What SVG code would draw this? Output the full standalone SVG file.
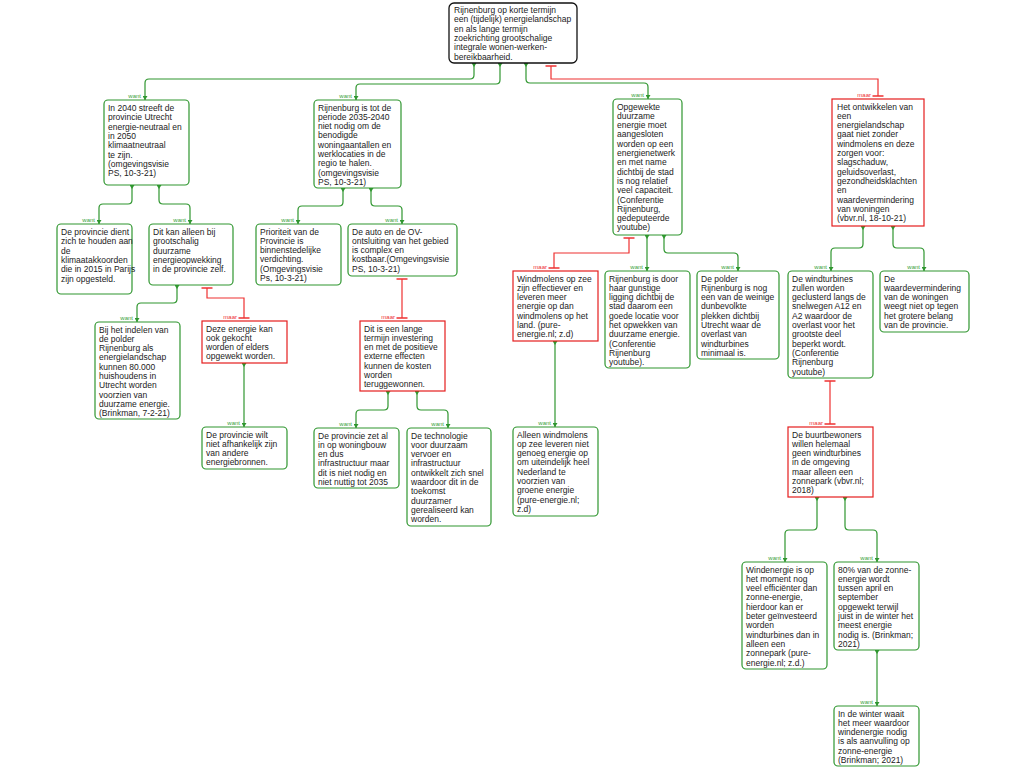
<svg xmlns="http://www.w3.org/2000/svg" width="1024" height="768" viewBox="0 0 1024 768">
<style>
.t{font-family:"Liberation Sans",Arial,sans-serif;font-size:8.5px;fill:#222}
.g{fill:#fff;stroke:#2f962f;stroke-width:1.2}
.r{fill:#fff;stroke:#e51d1d;stroke-width:1.2}
.k{fill:#fff;stroke:#111;stroke-width:1.3}
.cg{fill:none;stroke:#2f962f;stroke-width:1.2}
.cr{fill:none;stroke:#ee3030;stroke-width:1.2}
.lw{font-family:"Liberation Sans",Arial,sans-serif;font-size:6px;fill:#3aa23a;text-anchor:end}
.lm{font-family:"Liberation Sans",Arial,sans-serif;font-size:6px;fill:#ee3030;text-anchor:end}
</style>
<defs>
<marker id="ae" viewBox="0 0 4 5" refX="4" refY="2.5" markerWidth="4" markerHeight="5" markerUnits="userSpaceOnUse" orient="auto"><path d="M0,0 L4,2.5 L0,5 z" fill="#2f962f"/></marker>
<marker id="as" viewBox="0 0 4 5" refX="0" refY="2.5" markerWidth="4" markerHeight="5" markerUnits="userSpaceOnUse" orient="auto"><path d="M0,0 L4,2.5 L0,5 z" fill="#2f962f"/></marker>
<marker id="tb" viewBox="-2 -6 4 12" refX="0" refY="0" markerWidth="4" markerHeight="12" markerUnits="userSpaceOnUse" orient="auto"><path d="M0,-5.5 V5.5" stroke="#ee3030" stroke-width="1.5"/></marker>
</defs>
<g id="connectors">
<path class="cg" marker-start="url(#as)" marker-end="url(#ae)" d="M474 63 V75 Q474 79 470 79 H149 Q145 79 145 83 V100"/>
<path class="cg" marker-start="url(#as)" marker-end="url(#ae)" d="M500 63 V80 Q500 84 496 84 H360 Q356 84 356 88 V100"/>
<path class="cg" marker-start="url(#as)" marker-end="url(#ae)" d="M526 63 V79 Q526 83 530 83 H644 Q648 83 648 87 V99"/>
<path class="cr" marker-start="url(#tb)" marker-end="url(#tb)" d="M551 66 V79 H878 V96"/>
<path class="cg" marker-start="url(#as)" marker-end="url(#ae)" d="M132 185 V200 Q132 204 128 204 H103 Q99 204 99 208 V224"/>
<path class="cg" marker-start="url(#as)" marker-end="url(#ae)" d="M159 185 V200 Q159 204 163 204 H186 Q190 204 190 208 V224"/>
<path class="cg" marker-start="url(#as)" marker-end="url(#ae)" d="M343 188 V202 Q343 206 339 206 H302 Q298 206 298 210 V224"/>
<path class="cg" marker-start="url(#as)" marker-end="url(#ae)" d="M371 188 V202 Q371 206 375 206 H398 Q402 206 402 210 V224"/>
<path class="cr" marker-start="url(#tb)" marker-end="url(#tb)" d="M629 238 V253 H554 V268"/>
<path class="cg" marker-start="url(#as)" marker-end="url(#ae)" d="M647 235 V271"/>
<path class="cg" marker-start="url(#as)" marker-end="url(#ae)" d="M664 235 V249 Q664 253 668 253 H734 Q738 253 738 257 V271"/>
<path class="cg" marker-start="url(#as)" marker-end="url(#ae)" d="M863 226 V244 Q863 248 859 248 H835 Q831 248 831 252 V271"/>
<path class="cg" marker-start="url(#as)" marker-end="url(#ae)" d="M893 226 V244 Q893 248 897 248 H920 Q924 248 924 252 V271"/>
<path class="cr" marker-start="url(#tb)" marker-end="url(#tb)" d="M830 381 V424"/>
<path class="cg" marker-start="url(#as)" marker-end="url(#ae)" d="M817 497 V526 Q817 530 813 530 H789 Q785 530 785 534 V562"/>
<path class="cg" marker-start="url(#as)" marker-end="url(#ae)" d="M845 497 V526 Q845 530 849 530 H873 Q877 530 877 534 V562"/>
<path class="cg" marker-start="url(#as)" marker-end="url(#ae)" d="M877 650 V706"/>
<path class="cg" marker-start="url(#as)" marker-end="url(#ae)" d="M555 341 V427"/>
<path class="cg" marker-start="url(#as)" marker-end="url(#ae)" d="M177 285 V299 Q177 303 173 303 H141 Q137 303 137 307 V322"/>
<path class="cr" marker-start="url(#tb)" marker-end="url(#tb)" d="M207 288 V298 H244 V318"/>
<path class="cg" marker-start="url(#as)" marker-end="url(#ae)" d="M244 363 V427"/>
<path class="cr" marker-start="url(#tb)" marker-end="url(#tb)" d="M402 279 V318"/>
<path class="cg" marker-start="url(#as)" marker-end="url(#ae)" d="M388 391 V406 Q388 410 384 410 H360 Q356 410 356 414 V428"/>
<path class="cg" marker-start="url(#as)" marker-end="url(#ae)" d="M417 391 V406 Q417 410 421 410 H444 Q448 410 448 414 V428"/>
<text class="lw" x="141" y="97.5">want</text>
<text class="lw" x="352" y="97.5">want</text>
<text class="lw" x="644" y="96.5">want</text>
<text class="lm" x="871" y="96.5">maar</text>
<text class="lw" x="95" y="221.5">want</text>
<text class="lw" x="186" y="221.5">want</text>
<text class="lw" x="294" y="221.5">want</text>
<text class="lw" x="398" y="221.5">want</text>
<text class="lm" x="547" y="268.5">maar</text>
<text class="lw" x="643" y="268.5">want</text>
<text class="lw" x="734" y="268.5">want</text>
<text class="lw" x="827" y="268.5">want</text>
<text class="lw" x="920" y="268.5">want</text>
<text class="lm" x="823" y="424.5">maar</text>
<text class="lw" x="781" y="559.5">want</text>
<text class="lw" x="873" y="559.5">want</text>
<text class="lw" x="873" y="703.5">want</text>
<text class="lw" x="551" y="424.5">want</text>
<text class="lw" x="133" y="319.5">want</text>
<text class="lm" x="237" y="318.5">maar</text>
<text class="lw" x="240" y="424.5">want</text>
<text class="lm" x="395" y="318.5">maar</text>
<text class="lw" x="352" y="425.5">want</text>
<text class="lw" x="444" y="425.5">want</text>
</g>
<g id="root">
<rect class="k" x="449" y="3" width="128" height="60" rx="5"/>
<text class="t" y="13"><tspan x="454">Rijnenburg op korte termijn</tspan><tspan x="454" dy="9.3">een (tijdelijk) energielandschap</tspan><tspan x="454" dy="9.3">en als lange termijn</tspan><tspan x="454" dy="9.3">zoekrichting grootschalige</tspan><tspan x="454" dy="9.3">integrale wonen-werken-</tspan><tspan x="454" dy="9.3">bereikbaarheid.</tspan></text>
</g>
<g id="n1">
<rect class="g" x="104" y="100" width="85" height="85" rx="4"/>
<text class="t" y="111"><tspan x="108">In 2040 streeft de</tspan><tspan x="108" dy="9.3">provincie Utrecht</tspan><tspan x="108" dy="9.3">energie-neutraal en</tspan><tspan x="108" dy="9.3">in 2050</tspan><tspan x="108" dy="9.3">klimaatneutraal</tspan><tspan x="108" dy="9.3">te zijn.</tspan><tspan x="108" dy="9.3">(omgevingsvisie</tspan><tspan x="108" dy="9.3">PS, 10-3-21)</tspan></text>
</g>
<g id="n2">
<rect class="g" x="314" y="100" width="87" height="88" rx="4"/>
<text class="t" y="110.5"><tspan x="318">Rijnenburg is tot de</tspan><tspan x="318" dy="9.3">periode  2035-2040</tspan><tspan x="318" dy="9.3">niet nodig om de</tspan><tspan x="318" dy="9.3">benodigde</tspan><tspan x="318" dy="9.3">woningaantallen en</tspan><tspan x="318" dy="9.3">werklocaties in de</tspan><tspan x="318" dy="9.3">regio te halen.</tspan><tspan x="318" dy="9.3">(omgevingsvisie</tspan><tspan x="318" dy="9.3">PS, 10-3-21)</tspan></text>
</g>
<g id="n3">
<rect class="g" x="613" y="99" width="69" height="136" rx="4"/>
<text class="t" y="109.5"><tspan x="617">Opgewekte</tspan><tspan x="617" dy="9.3">duurzame</tspan><tspan x="617" dy="9.3">energie moet</tspan><tspan x="617" dy="9.3">aangesloten</tspan><tspan x="617" dy="9.3">worden op een</tspan><tspan x="617" dy="9.3">energienetwerk</tspan><tspan x="617" dy="9.3">en met name</tspan><tspan x="617" dy="9.3">dichtbij de stad</tspan><tspan x="617" dy="9.3">is nog relatief</tspan><tspan x="617" dy="9.3">veel capaciteit.</tspan><tspan x="617" dy="9.3">(Conferentie</tspan><tspan x="617" dy="9.3">Rijnenburg,</tspan><tspan x="617" dy="9.3">gedeputeerde</tspan><tspan x="617" dy="9.3">youtube)</tspan></text>
</g>
<g id="n4">
<rect class="r" x="832" y="99" width="92" height="127"/>
<text class="t" y="109.5"><tspan x="837">Het ontwikkelen van</tspan><tspan x="837" dy="9.3">een</tspan><tspan x="837" dy="9.3">energielandschap</tspan><tspan x="837" dy="9.3">gaat niet zonder</tspan><tspan x="837" dy="9.3">windmolens en deze</tspan><tspan x="837" dy="9.3">zorgen voor:</tspan><tspan x="837" dy="9.3">slagschaduw,</tspan><tspan x="837" dy="9.3">geluidsoverlast,</tspan><tspan x="837" dy="9.3">gezondheidsklachten</tspan><tspan x="837" dy="9.3">en</tspan><tspan x="837" dy="9.3">waardevermindering</tspan><tspan x="837" dy="9.3">van  woningen</tspan><tspan x="837" dy="9.3">(vbvr.nl, 18-10-21)</tspan></text>
</g>
<g id="n5">
<rect class="g" x="57" y="224" width="75" height="70" rx="4"/>
<text class="t" y="235"><tspan x="61">De provincie dient</tspan><tspan x="61" dy="9.3">zich te houden aan</tspan><tspan x="61" dy="9.3">de</tspan><tspan x="61" dy="9.3">klimaatakkoorden</tspan><tspan x="61" dy="9.3">die in 2015 in Parijs</tspan><tspan x="61" dy="9.3">zijn opgesteld.</tspan></text>
</g>
<g id="n6">
<rect class="g" x="149" y="224" width="84" height="61" rx="4"/>
<text class="t" y="235"><tspan x="153">Dit kan alleen bij</tspan><tspan x="153" dy="9.3">grootschalig</tspan><tspan x="153" dy="9.3">duurzame</tspan><tspan x="153" dy="9.3">energieopwekking</tspan><tspan x="153" dy="9.3">in de provincie zelf.</tspan></text>
</g>
<g id="n7">
<rect class="g" x="256" y="224" width="85" height="61" rx="4"/>
<text class="t" y="234.5"><tspan x="260">Prioriteit van de</tspan><tspan x="260" dy="9.3">Provincie is</tspan><tspan x="260" dy="9.3">binnenstedelijke</tspan><tspan x="260" dy="9.3">verdichting.</tspan><tspan x="260" dy="9.3">(Omgevingsvisie</tspan><tspan x="260" dy="9.3">Ps, 10-3-21)</tspan></text>
</g>
<g id="n8">
<rect class="g" x="348" y="224" width="109" height="52" rx="4"/>
<text class="t" y="234.5"><tspan x="352">De auto en de OV-</tspan><tspan x="352" dy="9.3">ontsluiting van het gebied</tspan><tspan x="352" dy="9.3">is complex en</tspan><tspan x="352" dy="9.3">kostbaar.(Omgevingsvisie</tspan><tspan x="352" dy="9.3">PS, 10-3-21)</tspan></text>
</g>
<g id="n9">
<rect class="r" x="513" y="271" width="85" height="70"/>
<text class="t" y="281.5"><tspan x="517">Windmolens op zee</tspan><tspan x="517" dy="9.3">zijn effectiever en</tspan><tspan x="517" dy="9.3">leveren meer</tspan><tspan x="517" dy="9.3">energie op dan</tspan><tspan x="517" dy="9.3">windmolens op het</tspan><tspan x="517" dy="9.3">land. (pure-</tspan><tspan x="517" dy="9.3">energie.nl; z.d)</tspan></text>
</g>
<g id="n10">
<rect class="g" x="605" y="271" width="85" height="97" rx="4"/>
<text class="t" y="281.5"><tspan x="609">Rijnenburg is door</tspan><tspan x="609" dy="9.3">haar gunstige</tspan><tspan x="609" dy="9.3">ligging dichtbij de</tspan><tspan x="609" dy="9.3">stad daarom een</tspan><tspan x="609" dy="9.3">goede locatie voor</tspan><tspan x="609" dy="9.3">het opwekken van</tspan><tspan x="609" dy="9.3">duurzame energie.</tspan><tspan x="609" dy="9.3">(Conferentie</tspan><tspan x="609" dy="9.3">Rijnenburg</tspan><tspan x="609" dy="9.3">youtube).</tspan></text>
</g>
<g id="n11">
<rect class="g" x="697" y="271" width="82" height="88" rx="4"/>
<text class="t" y="281.5"><tspan x="701">De polder</tspan><tspan x="701" dy="9.3">Rijnenburg is nog</tspan><tspan x="701" dy="9.3">een van de weinige</tspan><tspan x="701" dy="9.3">dunbevolkte</tspan><tspan x="701" dy="9.3">plekken dichtbij</tspan><tspan x="701" dy="9.3">Utrecht waar de</tspan><tspan x="701" dy="9.3">overlast van</tspan><tspan x="701" dy="9.3">windturbines</tspan><tspan x="701" dy="9.3">minimaal is.</tspan></text>
</g>
<g id="n12">
<rect class="g" x="788" y="271" width="85" height="107" rx="4"/>
<text class="t" y="281.5"><tspan x="792">De windturbines</tspan><tspan x="792" dy="9.3">zullen worden</tspan><tspan x="792" dy="9.3">geclusterd langs de</tspan><tspan x="792" dy="9.3">snelwegen A12 en</tspan><tspan x="792" dy="9.3">A2 waardoor de</tspan><tspan x="792" dy="9.3">overlast voor het</tspan><tspan x="792" dy="9.3">grootste deel</tspan><tspan x="792" dy="9.3">beperkt wordt.</tspan><tspan x="792" dy="9.3">(Conferentie</tspan><tspan x="792" dy="9.3">Rijnenburg</tspan><tspan x="792" dy="9.3">youtube)</tspan></text>
</g>
<g id="n13">
<rect class="g" x="880" y="271" width="89" height="61" rx="4"/>
<text class="t" y="281.5"><tspan x="884">De</tspan><tspan x="884" dy="9.3">waardevermindering</tspan><tspan x="884" dy="9.3">van de woningen</tspan><tspan x="884" dy="9.3">weegt niet op tegen</tspan><tspan x="884" dy="9.3">het grotere belang</tspan><tspan x="884" dy="9.3">van de provincie.</tspan></text>
</g>
<g id="n14">
<rect class="r" x="788" y="427" width="85" height="70"/>
<text class="t" y="437.5"><tspan x="792">De buurtbewoners</tspan><tspan x="792" dy="9.3">willen helemaal</tspan><tspan x="792" dy="9.3">geen windturbines</tspan><tspan x="792" dy="9.3">in de omgeving</tspan><tspan x="792" dy="9.3">maar alleen een</tspan><tspan x="792" dy="9.3">zonnepark (vbvr.nl;</tspan><tspan x="792" dy="9.3">2018)</tspan></text>
</g>
<g id="n15">
<rect class="g" x="742" y="562" width="85" height="107" rx="4"/>
<text class="t" y="572.5"><tspan x="746">Windenergie is op</tspan><tspan x="746" dy="9.3">het moment nog</tspan><tspan x="746" dy="9.3">veel efficiënter dan</tspan><tspan x="746" dy="9.3">zonne-energie,</tspan><tspan x="746" dy="9.3">hierdoor kan er</tspan><tspan x="746" dy="9.3">beter geïnvesteerd</tspan><tspan x="746" dy="9.3">worden</tspan><tspan x="746" dy="9.3">windturbines dan in</tspan><tspan x="746" dy="9.3">alleen een</tspan><tspan x="746" dy="9.3">zonnepark (pure-</tspan><tspan x="746" dy="9.3">energie.nl; z.d.)</tspan></text>
</g>
<g id="n16">
<rect class="g" x="834" y="562" width="85" height="88" rx="4"/>
<text class="t" y="572.5"><tspan x="838">80% van de zonne-</tspan><tspan x="838" dy="9.3">energie wordt</tspan><tspan x="838" dy="9.3">tussen april en</tspan><tspan x="838" dy="9.3">september</tspan><tspan x="838" dy="9.3">opgewekt terwijl</tspan><tspan x="838" dy="9.3">juist in de winter het</tspan><tspan x="838" dy="9.3">meest energie</tspan><tspan x="838" dy="9.3">nodig is. (Brinkman;</tspan><tspan x="838" dy="9.3">2021)</tspan></text>
</g>
<g id="n17">
<rect class="g" x="834" y="706" width="85" height="60" rx="4"/>
<text class="t" y="716.5"><tspan x="838">In de winter waait</tspan><tspan x="838" dy="9.3">het meer waardoor</tspan><tspan x="838" dy="9.3">windenergie nodig</tspan><tspan x="838" dy="9.3">is als aanvulling op</tspan><tspan x="838" dy="9.3">zonne-energie</tspan><tspan x="838" dy="9.3">(Brinkman; 2021)</tspan></text>
</g>
<g id="n18">
<rect class="g" x="513" y="427" width="85" height="89" rx="4"/>
<text class="t" y="437.5"><tspan x="517">Alleen windmolens</tspan><tspan x="517" dy="9.3">op zee leveren niet</tspan><tspan x="517" dy="9.3">genoeg energie op</tspan><tspan x="517" dy="9.3">om uiteindelijk heel</tspan><tspan x="517" dy="9.3">Nederland te</tspan><tspan x="517" dy="9.3">voorzien van</tspan><tspan x="517" dy="9.3">groene energie</tspan><tspan x="517" dy="9.3">(pure-energie.nl;</tspan><tspan x="517" dy="9.3">z.d)</tspan></text>
</g>
<g id="n19">
<rect class="g" x="95" y="322" width="85" height="97" rx="4"/>
<text class="t" y="332.5"><tspan x="99">Bij het indelen van</tspan><tspan x="99" dy="9.3">de polder</tspan><tspan x="99" dy="9.3">Rijnenburg als</tspan><tspan x="99" dy="9.3">energielandschap</tspan><tspan x="99" dy="9.3">kunnen 80.000</tspan><tspan x="99" dy="9.3">huishoudens in</tspan><tspan x="99" dy="9.3">Utrecht worden</tspan><tspan x="99" dy="9.3">voorzien van</tspan><tspan x="99" dy="9.3">duurzame energie.</tspan><tspan x="99" dy="9.3">(Brinkman, 7-2-21)</tspan></text>
</g>
<g id="n20">
<rect class="r" x="202" y="321" width="85" height="42"/>
<text class="t" y="331.5"><tspan x="206">Deze energie kan</tspan><tspan x="206" dy="9.3">ook gekocht</tspan><tspan x="206" dy="9.3">worden of elders</tspan><tspan x="206" dy="9.3">opgewekt worden.</tspan></text>
</g>
<g id="n21">
<rect class="g" x="202" y="427" width="85" height="42" rx="4"/>
<text class="t" y="437.5"><tspan x="206">De provincie wilt</tspan><tspan x="206" dy="9.3">niet afhankelijk zijn</tspan><tspan x="206" dy="9.3">van andere</tspan><tspan x="206" dy="9.3">energiebronnen.</tspan></text>
</g>
<g id="n22">
<rect class="r" x="360" y="321" width="85" height="70"/>
<text class="t" y="331.5"><tspan x="364">Dit is een lange</tspan><tspan x="364" dy="9.3">termijn investering</tspan><tspan x="364" dy="9.3">en met de positieve</tspan><tspan x="364" dy="9.3">externe effecten</tspan><tspan x="364" dy="9.3">kunnen de kosten</tspan><tspan x="364" dy="9.3">worden</tspan><tspan x="364" dy="9.3">teruggewonnen.</tspan></text>
</g>
<g id="n23">
<rect class="g" x="314" y="428" width="85" height="60" rx="4"/>
<text class="t" y="438.5"><tspan x="318">De provincie zet al</tspan><tspan x="318" dy="9.3">in op woningbouw</tspan><tspan x="318" dy="9.3">en dus</tspan><tspan x="318" dy="9.3">infrastructuur maar</tspan><tspan x="318" dy="9.3">dit is niet nodig en</tspan><tspan x="318" dy="9.3">niet nuttig tot 2035</tspan></text>
</g>
<g id="n24">
<rect class="g" x="407" y="428" width="84" height="98" rx="4"/>
<text class="t" y="438.5"><tspan x="411">De technologie</tspan><tspan x="411" dy="9.3">voor duurzaam</tspan><tspan x="411" dy="9.3">vervoer en</tspan><tspan x="411" dy="9.3">infrastructuur</tspan><tspan x="411" dy="9.3">ontwikkelt zich snel</tspan><tspan x="411" dy="9.3">waardoor dit in de</tspan><tspan x="411" dy="9.3">toekomst</tspan><tspan x="411" dy="9.3">duurzamer</tspan><tspan x="411" dy="9.3">gerealiseerd kan</tspan><tspan x="411" dy="9.3">worden.</tspan></text>
</g>
</svg>
